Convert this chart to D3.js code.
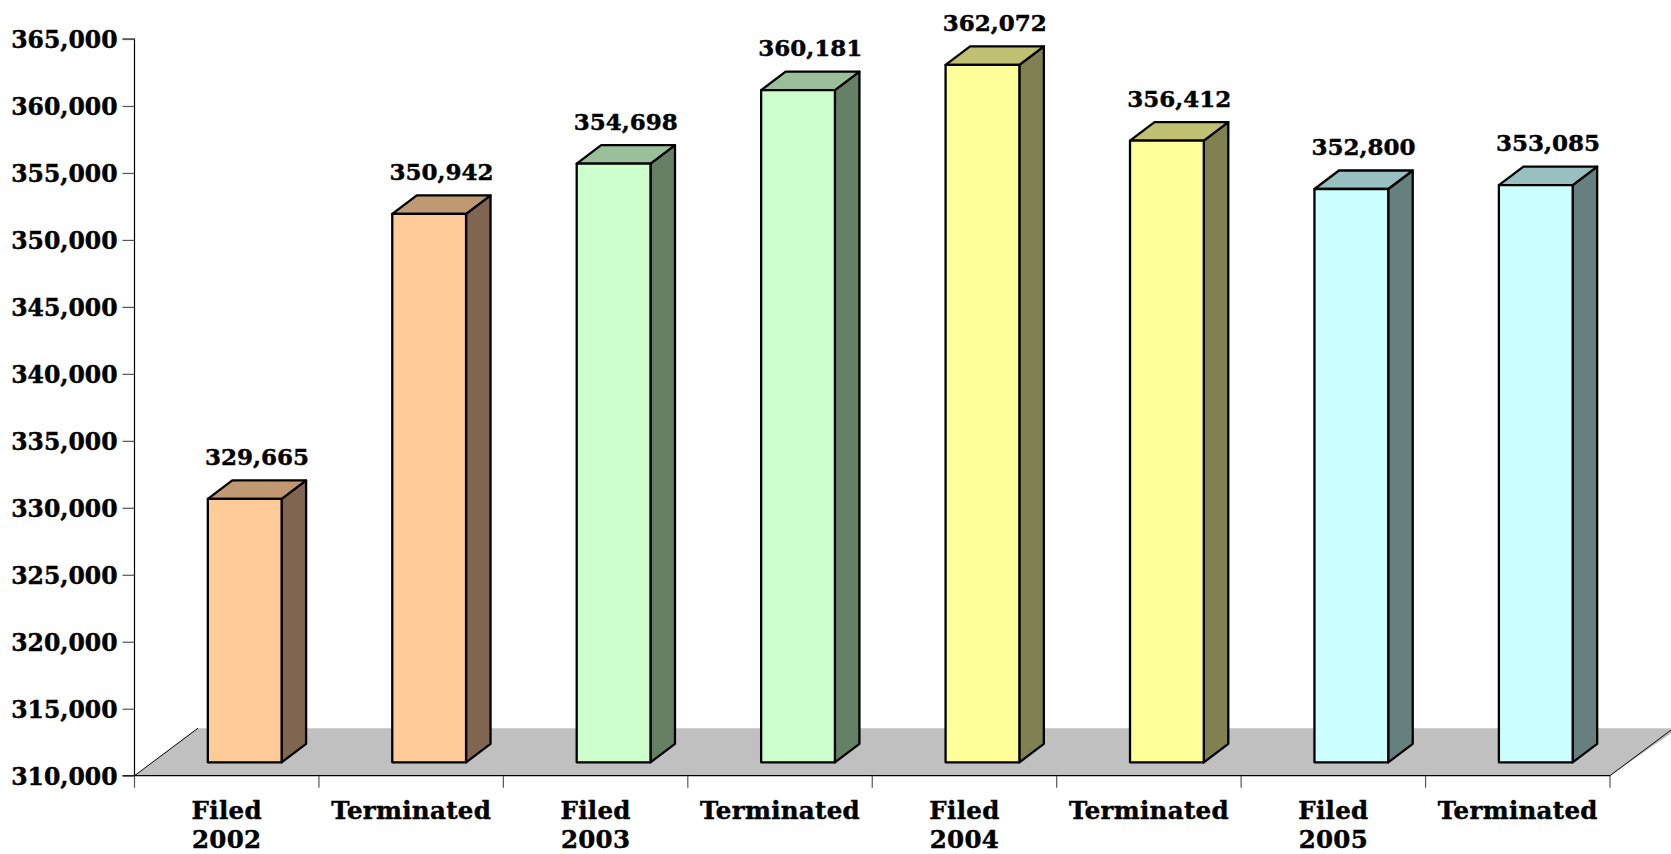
<!DOCTYPE html>
<html>
<head>
<meta charset="utf-8">
<script src="https://cdn.jsdelivr.net/npm/d3@7"></script>
<style>
  html, body { margin: 0; padding: 0; background: #ffffff; }
  svg { display: block; }
  text { font-family: "DejaVu Serif", serif; font-weight: bold; fill: #000; stroke: #000; stroke-width: 0.45px; }
</style>
</head>
<body>
<svg id="chart" width="1671" height="854"></svg>
<script>
const categories = ["Filed\n2002", "Terminated", "Filed\n2003", "Terminated", "Filed\n2004", "Terminated", "Filed\n2005", "Terminated"];
const values = [329665, 350942, 354698, 360181, 362072, 356412, 352800, 353085];
const yTicks = [310000, 315000, 320000, 325000, 330000, 335000, 340000, 345000, 350000, 355000, 360000, 365000];
const frontColors = ["#FFCC99", "#FFCC99", "#CCFFCC", "#CCFFCC", "#FFFF99", "#FFFF99", "#CCFFFF", "#CCFFFF"];
const topColors   = ["#C09973", "#C09973", "#99C099", "#99C099", "#C0C073", "#C0C073", "#99C0C0", "#99C0C0"];
const sideColors  = ["#806650", "#806650", "#668066", "#668066", "#808050", "#808050", "#668080", "#668080"];

const svg = d3.select("#chart");
const left = 134.5, right = 1610, yBottom = 775.7, yTop = 39;

const x = d3.scaleBand().domain(d3.range(categories.length)).range([left, right]).paddingInner(0).paddingOuter(0);
const y = d3.scaleLinear().domain([310000, 365000]).range([yBottom, yTop]);

// 3D geometry
const floorDX = 63.5, floorDY = 47.5;
const offDX = 18, offDY = 13.4;      // bar front-face offset from front plane
const depDX = 24.5, depDY = 18.5;    // bar depth
const barFrac = 0.4;

// floor
svg.append("polygon")
  .attr("points", [[left, yBottom], [left + floorDX, yBottom - floorDY], [right + floorDX + 5, yBottom - floorDY], [right, yBottom]].map(p => p.join(",")).join(" "))
  .attr("fill", "#C0C0C0").attr("stroke", "none");
svg.append("line").attr("x1", left).attr("y1", yBottom).attr("x2", left + floorDX).attr("y2", yBottom - floorDY)
  .attr("stroke", "#000").attr("stroke-width", 1);
svg.append("line").attr("x1", right).attr("y1", yBottom).attr("x2", right + floorDX).attr("y2", yBottom - floorDY)
  .attr("stroke", "#000").attr("stroke-width", 1);

// bars
const bw = x.bandwidth() * barFrac;
const bars = svg.append("g");
values.forEach((v, i) => {
  const x0 = x(i) + (x.bandwidth() - bw) / 2 + offDX;
  const x1 = x0 + bw;
  const yb = yBottom - offDY;
  const yt = y(v) - offDY;
  const g = bars.append("g").attr("stroke", "#000").attr("stroke-width", 2.3).attr("stroke-linejoin", "round");
  g.append("polygon").attr("fill", sideColors[i])
    .attr("points", [[x1, yt], [x1 + depDX, yt - depDY], [x1 + depDX, yb - depDY], [x1, yb]].map(p => p.join(",")).join(" "));
  g.append("polygon").attr("fill", topColors[i])
    .attr("points", [[x0, yt], [x0 + depDX, yt - depDY], [x1 + depDX, yt - depDY], [x1, yt]].map(p => p.join(",")).join(" "));
  g.append("rect").attr("fill", frontColors[i])
    .attr("x", x0).attr("y", yt).attr("width", bw).attr("height", yb - yt);
  bars.append("text")
    .attr("x", (x0 + x1 + depDX) / 2)
    .attr("y", yt - depDY - 15.5)
    .attr("text-anchor", "middle")
    .style("font-size", "23px")
    .text(d3.format(",")(v));
});

// y axis
const yAxis = d3.axisLeft(y).tickValues(yTicks).tickFormat(d3.format(",")).tickSize(12).tickPadding(5);
const ga = svg.append("g").attr("transform", `translate(${left},0)`).call(yAxis);
ga.select(".domain").attr("stroke", "#000").attr("stroke-width", 1.2).attr("d", `M-12,${yTop}H0V${yBottom}H-12`);
ga.selectAll(".tick line").attr("stroke", "#555").attr("stroke-width", 1.2);
ga.selectAll(".tick text").style("font-size", "23.5px").attr("dy", "0.36em")
  .style("font-family", "DejaVu Serif").style("font-weight", "bold").attr("stroke", "#000").attr("stroke-width", 0.45);

// x axis line and boundary ticks
svg.append("line").attr("x1", left).attr("x2", right).attr("y1", yBottom).attr("y2", yBottom).attr("stroke", "#000").attr("stroke-width", 1.2);
const bounds = d3.range(categories.length).map(i => x(i)).concat([right]);
svg.append("g").selectAll("line").data(bounds).join("line")
  .attr("x1", d => d).attr("x2", d => d).attr("y1", yBottom).attr("y2", yBottom + 12)
  .attr("stroke", "#555").attr("stroke-width", 1.2);

// category labels
const cl = svg.append("g").selectAll("text").data(categories).join("text")
  .attr("x", (d, i) => x(i) + x.bandwidth() / 2)
  .attr("y", 819)
  .attr("text-anchor", "middle")
  .style("font-size", "24.5px")
  .style("letter-spacing", "0.3px");
cl.each(function(d) {
  const lines = d.split("\n");
  const t = d3.select(this);
  lines.forEach((ln, k) => {
    t.append("tspan").attr("x", t.attr("x")).attr("dy", k === 0 ? 0 : 28.5).text(ln);
  });
});
</script>
</body>
</html>
